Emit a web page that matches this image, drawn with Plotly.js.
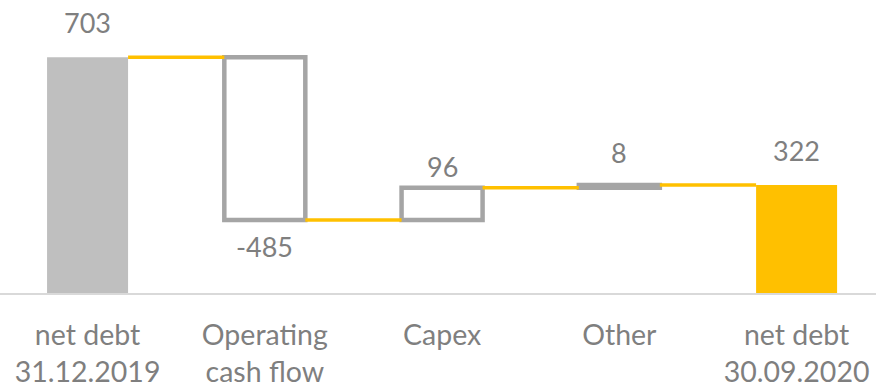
<!DOCTYPE html>
<html>
<head>
<meta charset="utf-8">
<script src="https://cdn.plot.ly/plotly-3.0.1.min.js"></script>
<style>
  html, body { margin: 0; padding: 0; background: #ffffff; }
  #chart { width: 876px; height: 390px; }
</style>
</head>
<body>
<div id="chart"></div>
<script>
// Net debt bridge: opening balance, movements, closing balance
const categories = ['net debt<br>31.12.2019', 'Operating<br>cash flow', 'Capex', 'Other', 'net debt<br>30.09.2020'];
const values = [703, -485, 96, 8, 322];
const measures = ['total', 'relative', 'relative', 'relative', 'total'];

// Styling per bar
const fillColors = ['#bfbfbf', '#ffffff', '#ffffff', '#a5a5a5', '#ffc000'];
const lineColors = ['#bfbfbf', '#a5a5a5', '#a5a5a5', '#a5a5a5', '#ffc000'];
const lineWidths = [0, 4.5, 4.5, 4.5, 0];
const labelShift = [35, -27, 21, 33, 35];   // px offset of value label from bar end
const barWidth = 0.457;
const textColor = '#7f7f7f';
const connectorColor = '#ffc000';

// Running level -> bar bases, heights and end levels
const xs = values.map((_, i) => i);
const bases = [], heights = [], ends = [];
let level = 0;
values.forEach((v, i) => {
  if (measures[i] === 'total') {
    bases.push(0); heights.push(v); level = v;
  } else {
    bases.push(Math.min(level, level + v)); heights.push(Math.abs(v)); level += v;
  }
  ends.push(level);
});

// Connector segments between neighbouring bars
const cx = [], cy = [];
for (let i = 0; i < values.length - 1; i++) {
  cx.push(xs[i] + barWidth / 2, xs[i + 1] - barWidth / 2, null);
  cy.push(ends[i], ends[i], null);
}

const bars = {
  type: 'bar',
  x: xs,
  y: heights,
  base: bases,
  width: barWidth,
  marker: { color: fillColors, line: { color: lineColors, width: lineWidths } },
  hoverinfo: 'skip'
};

const connectors = {
  type: 'scatter',
  mode: 'lines',
  x: cx,
  y: cy,
  line: { color: connectorColor, width: 3.5 },
  hoverinfo: 'skip'
};

const annotations = values.map((v, i) => {
  const up = v >= 0;
  return {
    x: xs[i],
    y: up ? bases[i] + heights[i] : bases[i],
    xref: 'x', yref: 'y',
    text: String(v),
    showarrow: false,
    xanchor: 'center',
    yanchor: 'middle',
    yshift: labelShift[i],
    font: { family: 'Lato, sans-serif', size: 27, color: textColor }
  };
});

const layout = {
  width: 876,
  height: 390,
  margin: { l: 0, r: 0, t: 8, b: 97 },
  paper_bgcolor: '#ffffff',
  plot_bgcolor: '#ffffff',
  showlegend: false,
  barmode: 'overlay',
  xaxis: {
    range: [-0.494, 4.448],
    tickmode: 'array',
    tickvals: xs,
    ticktext: categories,
    showgrid: false,
    zeroline: false,
    showline: true,
    linecolor: '#d9d9d9',
    linewidth: 2,
    ticks: '',
    ticklabelstandoff: 16,
    tickfont: { family: 'Lato, sans-serif', size: 28.5, color: textColor },
    fixedrange: true
  },
  yaxis: {
    range: [0, 850],
    visible: false,
    showgrid: false,
    zeroline: false,
    fixedrange: true
  },
  annotations: annotations
};

Plotly.newPlot('chart', [connectors, bars], layout, { staticPlot: true, displayModeBar: false });
</script>
</body>
</html>
